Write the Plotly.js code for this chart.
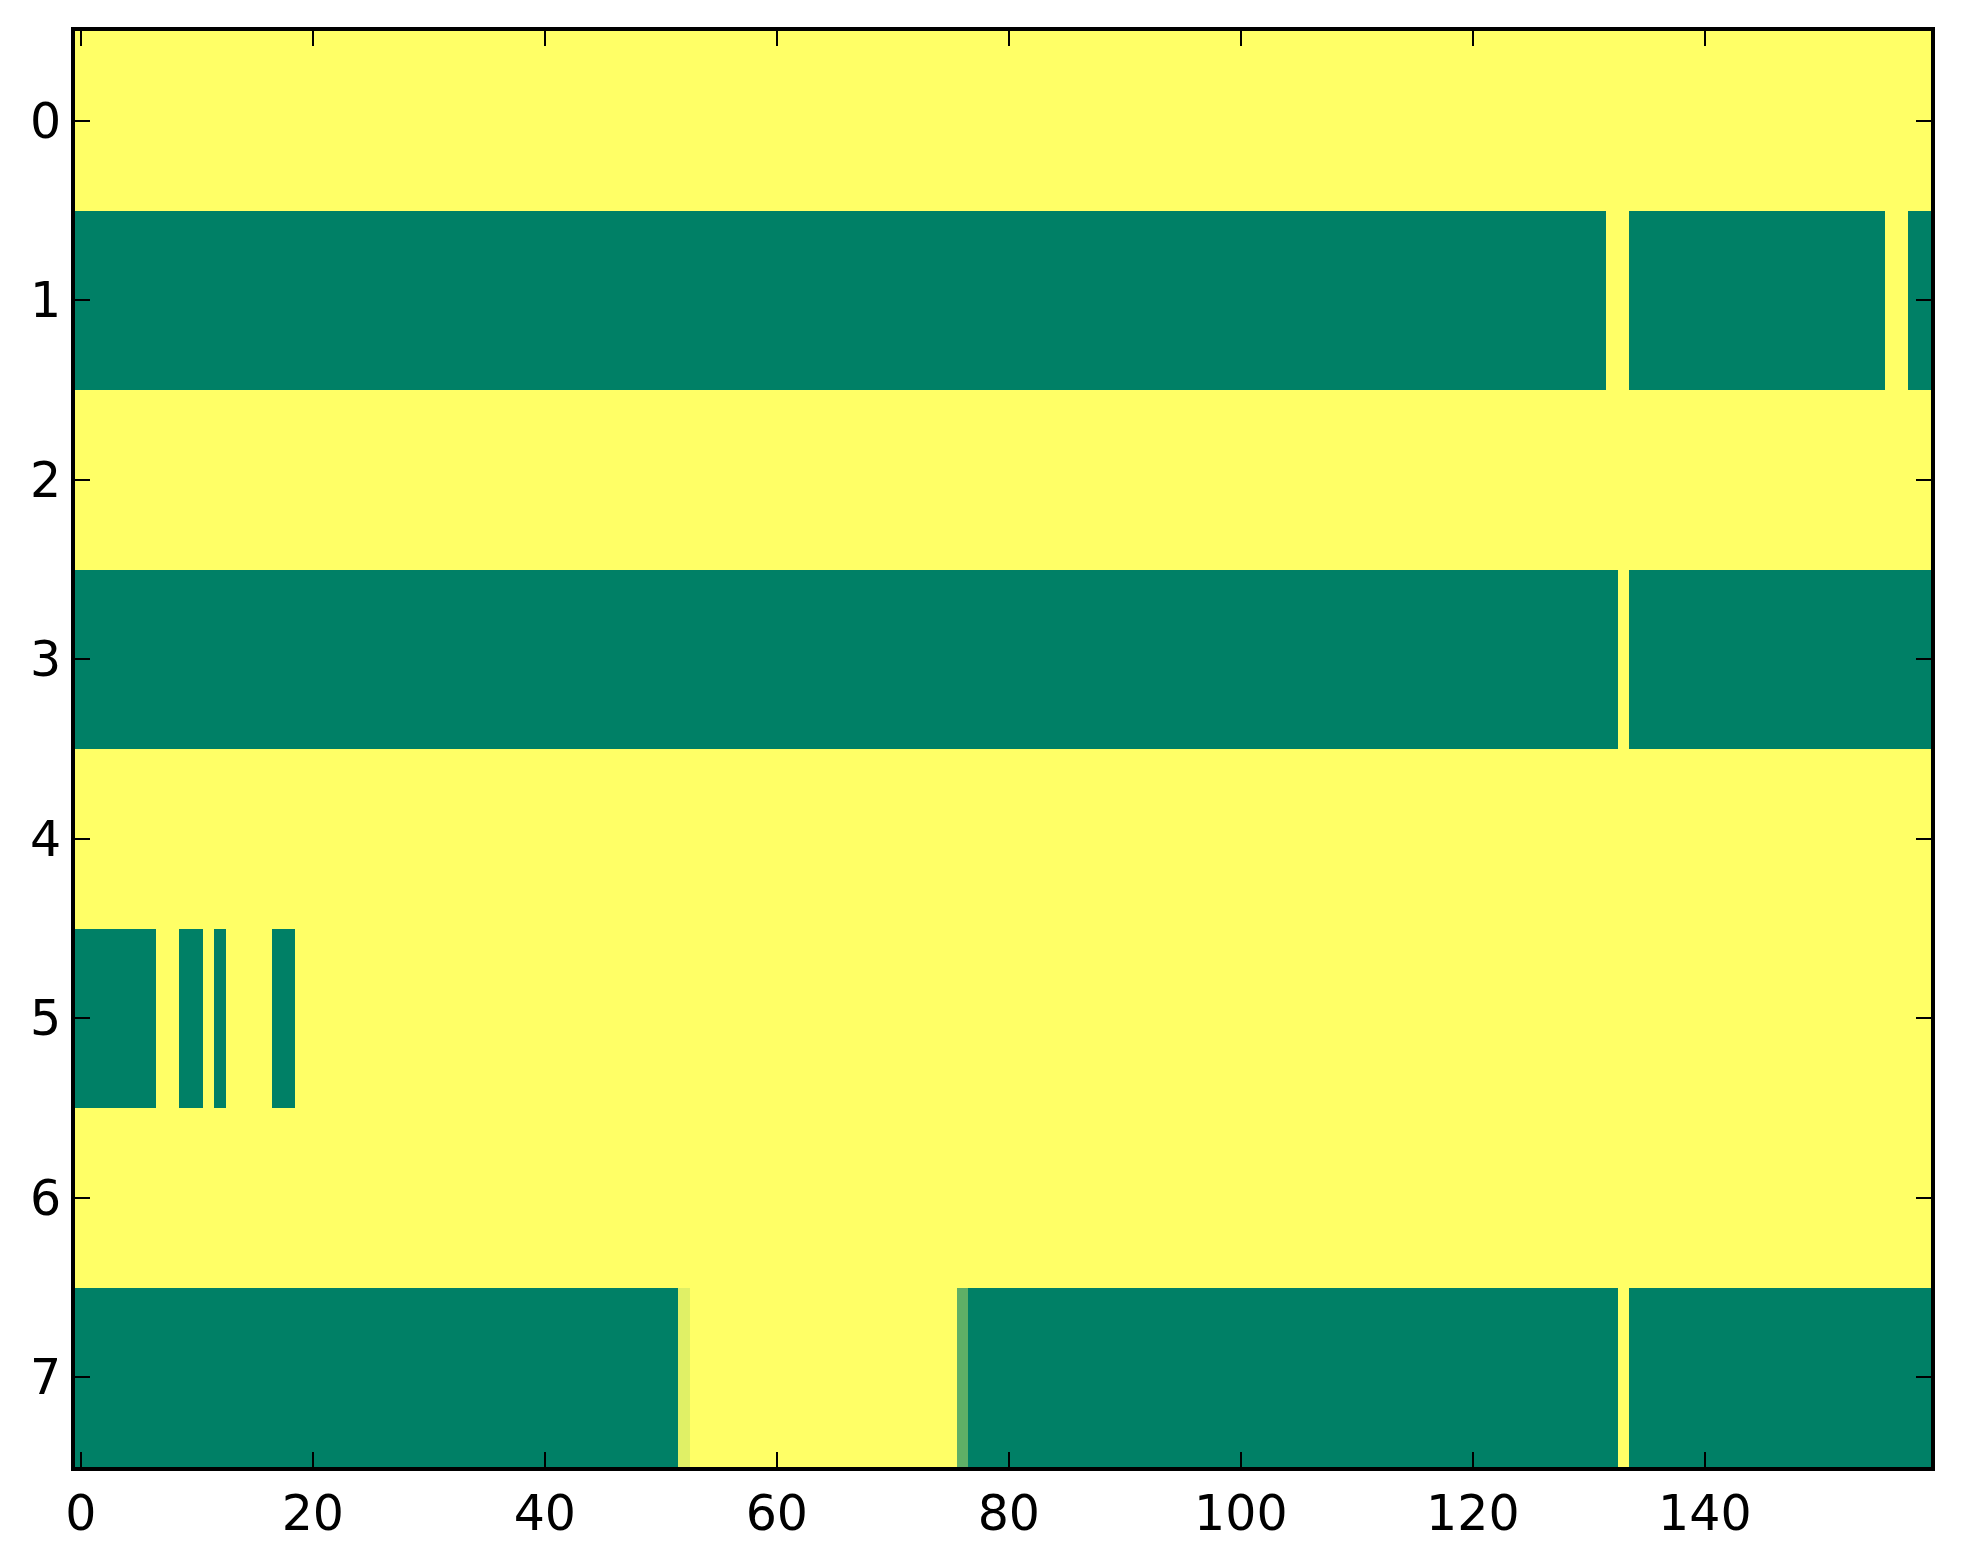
<!DOCTYPE html>
<html>
<head>
<meta charset="utf-8">
<script src="https://cdn.plot.ly/plotly-3.0.1.min.js"></script>
<style>html,body{margin:0;padding:0;background:#fff;}#chart{width:1963px;height:1564px;}</style>
</head>
<body>
<div id="chart"></div>
<script>
const rowLabels = [0, 1, 2, 3, 4, 5, 6, 7];
const xTicks = [0, 20, 40, 60, 80, 100, 120, 140];

const row0 = [
1,1,1,1,1,1,1,1,1,1,1,1,1,1,1,1,1,1,1,1,
1,1,1,1,1,1,1,1,1,1,1,1,1,1,1,1,1,1,1,1,
1,1,1,1,1,1,1,1,1,1,1,1,1,1,1,1,1,1,1,1,
1,1,1,1,1,1,1,1,1,1,1,1,1,1,1,1,1,1,1,1,
1,1,1,1,1,1,1,1,1,1,1,1,1,1,1,1,1,1,1,1,
1,1,1,1,1,1,1,1,1,1,1,1,1,1,1,1,1,1,1,1,
1,1,1,1,1,1,1,1,1,1,1,1,1,1,1,1,1,1,1,1,
1,1,1,1,1,1,1,1,1,1,1,1,1,1,1,1,1,1,1,1];
const row1 = [
0,0,0,0,0,0,0,0,0,0,0,0,0,0,0,0,0,0,0,0,
0,0,0,0,0,0,0,0,0,0,0,0,0,0,0,0,0,0,0,0,
0,0,0,0,0,0,0,0,0,0,0,0,0,0,0,0,0,0,0,0,
0,0,0,0,0,0,0,0,0,0,0,0,0,0,0,0,0,0,0,0,
0,0,0,0,0,0,0,0,0,0,0,0,0,0,0,0,0,0,0,0,
0,0,0,0,0,0,0,0,0,0,0,0,0,0,0,0,0,0,0,0,
0,0,0,0,0,0,0,0,0,0,0,0,1,1,0,0,0,0,0,0,
0,0,0,0,0,0,0,0,0,0,0,0,0,0,0,0,1,1,0,0];
const row2 = [
1,1,1,1,1,1,1,1,1,1,1,1,1,1,1,1,1,1,1,1,
1,1,1,1,1,1,1,1,1,1,1,1,1,1,1,1,1,1,1,1,
1,1,1,1,1,1,1,1,1,1,1,1,1,1,1,1,1,1,1,1,
1,1,1,1,1,1,1,1,1,1,1,1,1,1,1,1,1,1,1,1,
1,1,1,1,1,1,1,1,1,1,1,1,1,1,1,1,1,1,1,1,
1,1,1,1,1,1,1,1,1,1,1,1,1,1,1,1,1,1,1,1,
1,1,1,1,1,1,1,1,1,1,1,1,1,1,1,1,1,1,1,1,
1,1,1,1,1,1,1,1,1,1,1,1,1,1,1,1,1,1,1,1];
const row3 = [
0,0,0,0,0,0,0,0,0,0,0,0,0,0,0,0,0,0,0,0,
0,0,0,0,0,0,0,0,0,0,0,0,0,0,0,0,0,0,0,0,
0,0,0,0,0,0,0,0,0,0,0,0,0,0,0,0,0,0,0,0,
0,0,0,0,0,0,0,0,0,0,0,0,0,0,0,0,0,0,0,0,
0,0,0,0,0,0,0,0,0,0,0,0,0,0,0,0,0,0,0,0,
0,0,0,0,0,0,0,0,0,0,0,0,0,0,0,0,0,0,0,0,
0,0,0,0,0,0,0,0,0,0,0,0,0,1,0,0,0,0,0,0,
0,0,0,0,0,0,0,0,0,0,0,0,0,0,0,0,0,0,0,0];
const row4 = [
1,1,1,1,1,1,1,1,1,1,1,1,1,1,1,1,1,1,1,1,
1,1,1,1,1,1,1,1,1,1,1,1,1,1,1,1,1,1,1,1,
1,1,1,1,1,1,1,1,1,1,1,1,1,1,1,1,1,1,1,1,
1,1,1,1,1,1,1,1,1,1,1,1,1,1,1,1,1,1,1,1,
1,1,1,1,1,1,1,1,1,1,1,1,1,1,1,1,1,1,1,1,
1,1,1,1,1,1,1,1,1,1,1,1,1,1,1,1,1,1,1,1,
1,1,1,1,1,1,1,1,1,1,1,1,1,1,1,1,1,1,1,1,
1,1,1,1,1,1,1,1,1,1,1,1,1,1,1,1,1,1,1,1];
const row5 = [
0,0,0,0,0,0,0,1,1,0,0,1,0,1,1,1,1,0,0,1,
1,1,1,1,1,1,1,1,1,1,1,1,1,1,1,1,1,1,1,1,
1,1,1,1,1,1,1,1,1,1,1,1,1,1,1,1,1,1,1,1,
1,1,1,1,1,1,1,1,1,1,1,1,1,1,1,1,1,1,1,1,
1,1,1,1,1,1,1,1,1,1,1,1,1,1,1,1,1,1,1,1,
1,1,1,1,1,1,1,1,1,1,1,1,1,1,1,1,1,1,1,1,
1,1,1,1,1,1,1,1,1,1,1,1,1,1,1,1,1,1,1,1,
1,1,1,1,1,1,1,1,1,1,1,1,1,1,1,1,1,1,1,1];
const row6 = [
1,1,1,1,1,1,1,1,1,1,1,1,1,1,1,1,1,1,1,1,
1,1,1,1,1,1,1,1,1,1,1,1,1,1,1,1,1,1,1,1,
1,1,1,1,1,1,1,1,1,1,1,1,1,1,1,1,1,1,1,1,
1,1,1,1,1,1,1,1,1,1,1,1,1,1,1,1,1,1,1,1,
1,1,1,1,1,1,1,1,1,1,1,1,1,1,1,1,1,1,1,1,
1,1,1,1,1,1,1,1,1,1,1,1,1,1,1,1,1,1,1,1,
1,1,1,1,1,1,1,1,1,1,1,1,1,1,1,1,1,1,1,1,
1,1,1,1,1,1,1,1,1,1,1,1,1,1,1,1,1,1,1,1];
const row7 = [
0,0,0,0,0,0,0,0,0,0,0,0,0,0,0,0,0,0,0,0,
0,0,0,0,0,0,0,0,0,0,0,0,0,0,0,0,0,0,0,0,
0,0,0,0,0,0,0,0,0,0,0,0,0.88,1,1,1,1,1,1,1,
1,1,1,1,1,1,1,1,1,1,1,1,1,1,1,1,0.37,0,0,0,
0,0,0,0,0,0,0,0,0,0,0,0,0,0,0,0,0,0,0,0,
0,0,0,0,0,0,0,0,0,0,0,0,0,0,0,0,0,0,0,0,
0,0,0,0,0,0,0,0,0,0,0,0,0,1,0,0,0,0,0,0,
0,0,0,0,0,0,0,0,0,0,0,0,0,0,0,0,0,0,0,0];

const zRows = [row0, row1, row2, row3, row4, row5, row6, row7];

const summer = [[0, 'rgb(0,128,102)'], [1, 'rgb(255,255,102)']];

const trace = {
  type: 'heatmap',
  z: zRows,
  y: rowLabels,
  colorscale: summer,
  zmin: 0,
  zmax: 1,
  showscale: false,
  hoverinfo: 'skip'
};

const axisCommon = {
  showline: true,
  linecolor: '#000',
  linewidth: 4,
  mirror: 'ticks',
  ticks: 'inside',
  ticklen: 15,
  tickwidth: 2,
  tickcolor: '#000',
  showgrid: false,
  zeroline: false,
  tickfont: {family: 'DejaVu Sans', size: 49, color: '#000'}
};

const layout = {
  width: 1963,
  height: 1564,
  margin: {l: 75, r: 32, t: 31, b: 97, pad: 0},
  paper_bgcolor: '#fff',
  plot_bgcolor: '#fff',
  showlegend: false,
  xaxis: Object.assign({}, axisCommon, {
    range: [-0.5, 159.5],
    tickmode: 'array',
    tickvals: xTicks,
    ticktext: xTicks.map(String)
  }),
  yaxis: Object.assign({}, axisCommon, {
    range: [7.5, -0.5],
    tickmode: 'array',
    tickvals: rowLabels,
    ticktext: rowLabels.map(String)
  })
};

Plotly.newPlot('chart', [trace], layout, {displayModeBar: false, staticPlot: true});
</script>
</body>
</html>
